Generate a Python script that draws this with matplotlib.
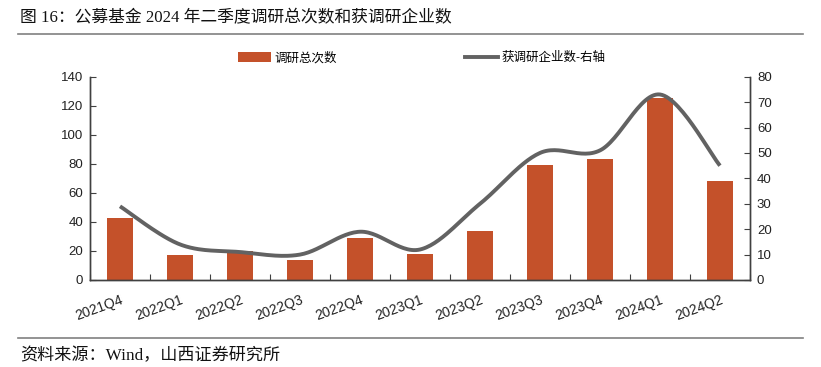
import numpy as np
import matplotlib
matplotlib.use("Agg")
import matplotlib.pyplot as plt
from matplotlib.lines import Line2D
from matplotlib.patches import Patch
import matplotlib.transforms as mtransforms

plt.rcParams['font.family'] = ['Liberation Sans', 'Noto Sans CJK SC', 'DejaVu Sans']

categories = ["2021Q4", "2022Q1", "2022Q2", "2022Q3", "2022Q4", "2023Q1",
              "2023Q2", "2023Q3", "2023Q4", "2024Q1", "2024Q2"]
total_visits = [43, 17, 20, 14, 29, 18, 34, 79, 83, 125, 68]
companies = [29, 14, 11, 10, 19, 12, 30, 50, 51, 73, 45]

bar_label = "调研总次数"
line_label = "获调研企业数-右轴"
title = "图 16：公募基金 2024 年二季度调研总次数和获调研企业数"
source = "资料来源：Wind，山西证券研究所"

BAR_COLOR = "#C4512A"
LINE_COLOR = "#626262"
SPINE_COLOR = "#404040"

W, H = 821, 367
fig = plt.figure(figsize=(W / 100, H / 100), dpi=100)

ax = fig.add_axes([90 / W, 1 - 280 / H, (750 - 90) / W, (280 - 76.7) / H])
ax2 = ax.twinx()

x = np.arange(len(categories))
ax.bar(x, total_visits, width=0.44, color=BAR_COLOR, zorder=2)


def smooth(xs, ys, n=30):
    xs = np.asarray(xs, float)
    ys = np.asarray(ys, float)
    px = np.concatenate([[xs[0]], xs, [xs[-1]]])
    py = np.concatenate([[ys[0]], ys, [ys[-1]]])
    outx, outy = [], []
    t = np.linspace(0, 1, n)
    for i in range(1, len(px) - 2):
        p0 = np.array([px[i], py[i]])
        p3 = np.array([px[i + 1], py[i + 1]])
        p1 = p0 + (np.array([px[i + 1], py[i + 1]]) - np.array([px[i - 1], py[i - 1]])) / 6
        p2 = p3 - (np.array([px[i + 2], py[i + 2]]) - np.array([px[i], py[i]])) / 6
        b = ((1 - t) ** 3)[:, None] * p0 + (3 * (1 - t) ** 2 * t)[:, None] * p1 \
            + (3 * (1 - t) * t ** 2)[:, None] * p2 + (t ** 3)[:, None] * p3
        outx.extend(b[:, 0])
        outy.extend(b[:, 1])
    return outx, outy


sx, sy = smooth(x, companies)
ax2.plot(sx, sy, color=LINE_COLOR, lw=2.8, solid_capstyle='butt', zorder=3)

ax.set_xlim(-0.5, len(categories) - 0.5)
ax.set_ylim(0, 140)
ax.set_yticks(np.arange(0, 141, 20))
ax2.set_ylim(0, 80)
ax2.set_yticks(np.arange(0, 81, 10))

ax.set_xticks(np.arange(-0.5, len(categories) + 0.5, 1), minor=False)
ax.set_xticklabels([])
ax.set_xticks(x, minor=True)
ax.set_xticklabels(categories, minor=True, rotation=20, ha='right',
                   rotation_mode='anchor', fontsize=10, color='#222222')
offset = mtransforms.ScaledTranslation(-3 / 100, 0, fig.dpi_scale_trans)
for lab in ax.get_xticklabels(minor=True):
    lab.set_transform(lab.get_transform() + offset)
ax.tick_params(axis='x', which='major', direction='in', length=4, color=SPINE_COLOR)
ax.tick_params(axis='x', which='minor', length=0, pad=9)

ax.tick_params(axis='y', direction='in', length=4, color=SPINE_COLOR,
               labelsize=9.5, labelcolor='#222222', pad=5)
ax2.tick_params(axis='y', direction='in', length=4, color=SPINE_COLOR,
                labelsize=9.5, labelcolor='#222222', pad=5)

for a in (ax, ax2):
    a.spines['top'].set_visible(False)
    for s in ('left', 'right', 'bottom'):
        a.spines[s].set_color(SPINE_COLOR)
        a.spines[s].set_linewidth(1.0)
    a.patch.set_visible(False)

# legends
h1 = Patch(facecolor=BAR_COLOR, edgecolor='none')
fig.legend([h1], [bar_label], loc='center left', bbox_to_anchor=(238 / W, 1 - 58 / H),
           frameon=False, fontsize=9, handlelength=2.6, handleheight=0.8,
           handletextpad=0.3, borderaxespad=0, borderpad=0)
h2 = Line2D([], [], color=LINE_COLOR, lw=2.8)
fig.legend([h2], [line_label], loc='center left', bbox_to_anchor=(465 / W, 1 - 58 / H),
           frameon=False, fontsize=9, handlelength=2.6,
           handletextpad=0.3, borderaxespad=0, borderpad=0)

# title and source
fig.text(20 / W, 1 - 18 / H, title, fontsize=12.1, va='center', ha='left',
         family=['Liberation Serif', 'Noto Sans CJK SC'], color='#111111')
fig.text(20 / W, 1 - 356 / H, source, fontsize=12.3, va='center', ha='left',
         family=['Liberation Serif', 'Noto Sans CJK SC'], color='#111111')
fig.add_artist(Line2D([18 / W, 803 / W], [1 - 34 / H, 1 - 34 / H], color='#808080', lw=1.2))
fig.add_artist(Line2D([18 / W, 803 / W], [1 - 338 / H, 1 - 338 / H], color='#808080', lw=1.2))

fig.savefig("out.png", dpi=100)
